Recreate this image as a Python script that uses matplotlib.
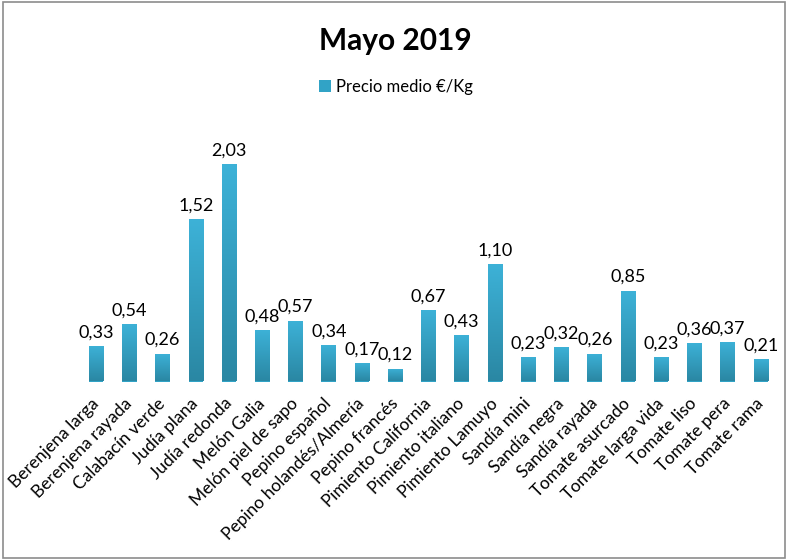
import matplotlib
matplotlib.use("Agg")
import matplotlib.pyplot as plt
import numpy as np
from matplotlib.patches import Rectangle
from matplotlib.colors import LinearSegmentedColormap

categories = ["Berenjena larga", "Berenjena rayada", "Calabacín verde", "Judía plana",
              "Judía redonda", "Melón Galia", "Melón piel de sapo", "Pepino español",
              "Pepino holandés/Almería", "Pepino francés", "Pimiento California",
              "Pimiento italiano", "Pimiento Lamuyo", "Sandía mini", "Sandía negra",
              "Sandía rayada", "Tomate asurcado", "Tomate larga vida", "Tomate liso",
              "Tomate pera", "Tomate rama"]
values = [0.33, 0.54, 0.26, 1.52, 2.03, 0.48, 0.57, 0.34, 0.17, 0.12, 0.67,
          0.43, 1.10, 0.23, 0.32, 0.26, 0.85, 0.23, 0.36, 0.37, 0.21]
series_name = "Precio medio €/Kg"
title = "Mayo 2019"

plt.rcParams['font.family'] = ['Lato', 'DejaVu Sans']

fig = plt.figure(figsize=(7.88, 5.6), dpi=100)
ax = fig.add_axes([79.5/788, 1 - 381.5/560, (777.5-79.5)/788, (381.5-114)/560])

x = np.arange(len(categories))
bars = ax.bar(x, values, width=0.44, color="#31a3c6", label=series_name, zorder=2)

cmap = LinearSegmentedColormap.from_list("g", ["#2a87a3", "#3db2d8"])
grad = np.linspace(0, 1, 256).reshape(-1, 1)
for b in bars:
    bx, by = b.get_x(), b.get_y()
    w, h = b.get_width(), b.get_height()
    im = ax.imshow(grad, cmap=cmap, origin="lower", aspect="auto",
                   extent=(bx, bx + w, by, by + h), zorder=3)
    im.set_clip_path(b)
ax.set_xlim(-0.5, len(categories) - 0.5)
ax.set_ylim(0, 2.5)

for xi, v in zip(x, values):
    ax.annotate(f"{v:.2f}".replace(".", ","), (xi, v), xytext=(0, 4),
                textcoords="offset points", ha="center", va="bottom", fontsize=13)

ax.set_xticks(x)
ax.set_xticklabels(categories, rotation=45, ha="right", va="center",
                   rotation_mode="anchor", fontsize=12.5)
ax.tick_params(axis="x", length=0, pad=14)
ax.set_yticks([])
for s in ax.spines.values():
    s.set_visible(False)

fig.text(395/788, 1 - 50/560, title, ha="center", va="baseline", fontsize=21.5, fontweight="bold")
leg = fig.legend(handles=[bars], labels=[series_name], loc="center",
                 bbox_to_anchor=(396/788, 1 - 87/560), frameon=False, fontsize=12,
                 handlelength=0.75, handleheight=0.75, handletextpad=0.3)

fig.patches.append(Rectangle((3/788, 2/560), 782/788, 556/560, transform=fig.transFigure,
                             fill=False, edgecolor="#8c8c8c", linewidth=1.2))

fig.savefig("out.png", dpi=100)
